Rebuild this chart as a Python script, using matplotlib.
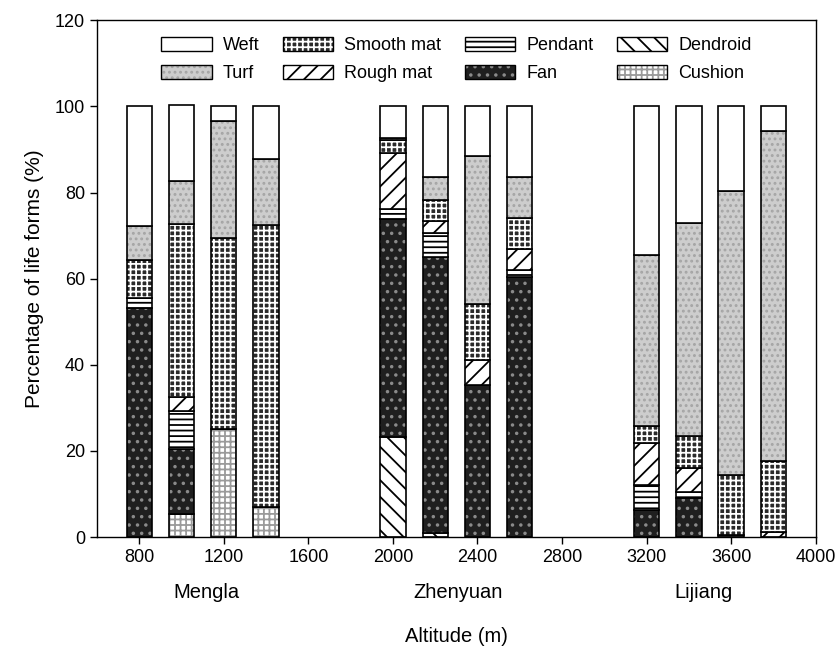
import numpy as np
import matplotlib
matplotlib.use("Agg")
import matplotlib.pyplot as plt

plt.rcParams['font.family'] = ['Liberation Sans', 'DejaVu Sans']
plt.rcParams['hatch.linewidth'] = 1.3

# altitudes of the sampled plots (m)
altitudes = [800, 1000, 1200, 1400, 2000, 2200, 2400, 2600, 3200, 3400, 3600, 3800]

# percentage of each life form, stacked bottom -> top
cushion    = [0.0, 5.3, 25.2, 7.0, 0.0, 0.0, 0.0, 0.0, 0.0, 0.0, 0.5, 0.0]
dendroid   = [0.0, 0.0, 0.0, 0.0, 23.3, 0.9, 0.0, 0.0, 0.0, 0.0, 0.0, 0.0]
fan        = [53.1, 15.1, 0.0, 0.0, 50.5, 64.1, 35.4, 60.4, 6.3, 9.1, 0.0, 0.0]
pendant    = [2.5, 8.8, 0.0, 0.0, 2.3, 5.5, 0.0, 1.5, 5.8, 1.3, 0.0, 0.0]
rough_mat  = [0.0, 3.4, 0.0, 0.0, 13.1, 3.0, 5.7, 5.1, 9.8, 5.7, 0.0, 1.1]
smooth_mat = [8.8, 40.1, 44.3, 65.5, 2.9, 4.8, 12.9, 7.2, 3.9, 7.4, 13.9, 16.5]
turf       = [7.8, 9.9, 27.2, 15.4, 0.6, 5.3, 34.5, 9.4, 39.6, 49.5, 65.9, 76.8]
weft       = [27.8, 17.8, 3.3, 12.1, 7.3, 16.4, 11.5, 16.4, 34.6, 27.0, 19.7, 5.6]

sites = ["Mengla", "Zhenyuan", "Lijiang"]
site_x = [1120, 2310, 3470]

# (label, values, facecolor, hatch, hatch colour)
layers = [
    ("Cushion", cushion, "white", "+++", "#9a9a9a"),
    ("Dendroid", dendroid, "white", "\\\\", "black"),
    ("Fan", fan, "#1f1f1f", "..", "#8a8a8a"),
    ("Pendant", pendant, "white", "---", "black"),
    ("Rough mat", rough_mat, "white", "//", "black"),
    ("Smooth mat", smooth_mat, "#2a2a2a", "+++", "white"),
    ("Turf", turf, "#cdcdcd", "...", "#a5a5a5"),
    ("Weft", weft, "white", "", "black"),
]

fig = plt.figure(figsize=(8.39, 6.46), dpi=100)
ax = fig.add_axes([0.1156, 0.1687, 0.8566, 0.7999])

width = 120
bottom = np.zeros(len(altitudes))
handles = {}
for label, vals, fc, hatch, hc in layers:
    vals = np.array(vals)
    # hatch drawn in its own colour, outline drawn on top in black
    ax.bar(altitudes, vals, width, bottom=bottom, color=fc, hatch=hatch,
           edgecolor=hc, linewidth=0)
    ax.bar(altitudes, vals, width, bottom=bottom, fill=False,
           edgecolor="black", linewidth=1.2)
    handles[label] = (plt.Rectangle((0, 0), 1, 1, facecolor=fc, hatch=hatch, edgecolor=hc, linewidth=0),
                      plt.Rectangle((0, 0), 1, 1, fill=False, edgecolor="black", linewidth=1.0))
    bottom += vals

ax.set_xlim(600, 4000)
ax.set_ylim(0, 120)
ax.set_xticks(np.arange(800, 4001, 400))
ax.set_yticks(np.arange(0, 121, 20))
ax.tick_params(labelsize=13, direction="out", length=5, width=1.0)
for s in ax.spines.values():
    s.set_linewidth(1.0)

ax.set_ylabel("Percentage of life forms (%)", fontsize=15, labelpad=8)
ax.set_xlabel("Altitude (m)", fontsize=14.5, labelpad=44)

for name, xs in zip(sites, site_x):
    ax.text(xs, -13, name, ha="center", va="center", fontsize=14.5,
            transform=ax.transData, clip_on=False)

order = ["Weft", "Turf", "Smooth mat", "Rough mat", "Pendant", "Fan", "Dendroid", "Cushion"]
ax.legend([handles[k] for k in order], order, ncol=4, loc="upper center",
          bbox_to_anchor=(0.5, 1.0), frameon=False, fontsize=13,
          handlelength=2.8, handleheight=0.85, columnspacing=1.3,
          handletextpad=0.6, labelspacing=0.6)

fig.savefig("out.png", dpi=100)
